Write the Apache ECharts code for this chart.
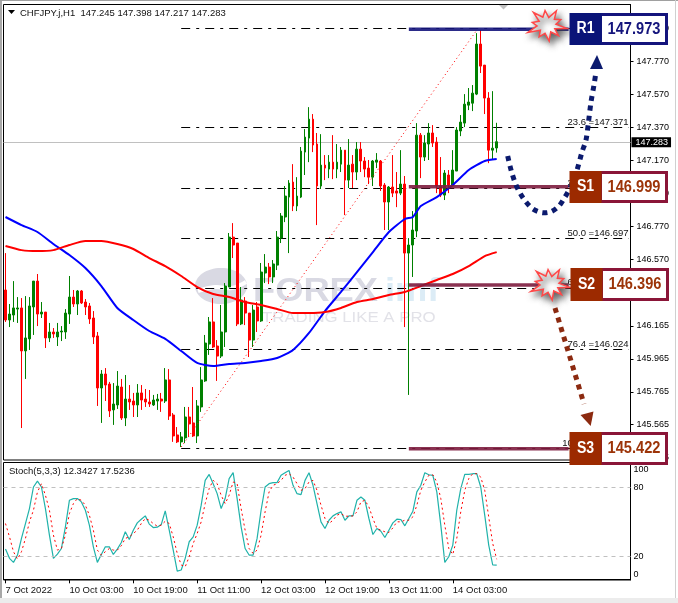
<!DOCTYPE html>
<html lang="en">
<head>
  <meta charset="UTF-8">
  <title>CHFJPY H1</title>
  <style>
    html, body { margin: 0; padding: 0; background: #fff; }
    #main { width: 678px; height: 603px; }
  </style>
</head>
<body>
  <div id="main"></div>
  <script src="https://cdn.jsdelivr.net/npm/echarts@6/dist/echarts.min.js"></script>
  <script>
    // x axis labels, one every 16 bars
    var tickLabels = ['7 Oct 2022', '10 Oct 03:00', '10 Oct 19:00', '11 Oct 11:00', '12 Oct 03:00', '12 Oct 19:00', '13 Oct 11:00', '14 Oct 03:00'];
    var priceTicks = [145.365, 145.565, 145.765, 145.965, 146.165, 146.370, 146.570, 146.770, 146.970, 147.170, 147.370, 147.570, 147.770, 147.970];
    var stochTicks = [0, 20, 80, 100];

    var opens = [
      146.383,146.201,146.231,146.267,146.274,146.013,146.086,146.280,146.437,146.237,
      146.249,146.092,146.128,146.098,146.128,146.128,146.237,146.340,146.298,146.377,
      146.310,146.286,146.213,146.104,145.788,145.873,145.812,145.655,145.685,145.794,
      145.606,145.721,145.709,145.685,145.758,145.721,145.703,145.685,145.709,145.721,
      145.709,145.837,145.624,145.503,145.461,145.485,145.612,145.576,145.497,145.673,
      145.831,146.055,146.189,146.043,145.982,146.128,146.401,146.704,146.668,146.177,
      146.316,146.243,146.079,146.280,146.195,146.486,146.522,146.462,146.534,146.698,
      146.826,146.947,147.038,146.893,146.947,147.220,147.305,147.420,147.269,147.014,
      147.141,147.117,147.159,147.117,147.147,147.232,147.050,147.147,147.099,147.238,
      147.166,147.123,147.068,147.159,147.166,147.020,146.917,147.008,146.984,146.971,
      147.026,146.607,146.656,146.741,147.323,147.190,147.269,147.336,147.281,147.014,
      146.959,147.081,147.020,147.105,147.348,147.396,147.505,147.517,147.572,147.876,
      147.748,147.548,147.232,147.245
    ];
    var closes = [
      146.201,146.237,146.274,146.274,146.013,146.092,146.286,146.437,146.237,146.249,
      146.092,146.128,146.116,146.128,146.134,146.243,146.340,146.298,146.377,146.304,
      146.280,146.207,146.098,145.788,145.873,145.806,145.649,145.691,145.800,145.606,
      145.721,145.703,145.685,145.758,145.715,145.703,145.691,145.715,145.721,145.709,
      145.837,145.618,145.497,145.461,145.491,145.612,145.570,145.497,145.679,145.837,
      146.061,146.189,146.037,145.982,146.128,146.407,146.704,146.656,146.177,146.322,
      146.243,146.079,146.261,146.195,146.492,146.522,146.462,146.541,146.704,146.832,
      146.953,147.032,146.893,146.953,147.226,147.311,147.420,147.263,147.014,147.141,
      147.123,147.159,147.117,147.159,147.232,147.050,147.141,147.099,147.238,147.166,
      147.117,147.068,147.166,147.172,147.014,146.917,147.008,146.971,146.971,147.026,
      146.607,146.656,146.747,147.323,147.190,147.275,147.336,147.275,147.014,146.959,
      147.093,147.020,147.111,147.354,147.402,147.511,147.524,147.578,147.876,147.742,
      147.548,147.232,147.244,147.283
    ];
    var lows = [
      146.189,146.158,146.189,146.183,145.545,145.843,146.019,146.110,146.164,146.213,
      146.031,146.067,146.092,146.043,146.073,146.086,146.177,146.280,146.231,146.298,
      146.231,146.177,146.055,145.679,145.576,145.709,145.612,145.564,145.661,145.594,
      145.557,145.655,145.612,145.612,145.655,145.673,145.673,145.679,145.655,145.643,
      145.697,145.594,145.461,145.454,145.430,145.454,145.491,145.491,145.454,145.643,
      145.825,145.989,146.031,145.831,145.970,146.037,146.401,146.577,146.164,146.170,
      146.170,145.976,146.037,146.128,146.189,146.425,146.419,146.425,146.504,146.668,
      146.795,146.607,146.862,146.862,146.941,147.081,147.159,147.220,146.777,146.996,
      147.050,147.062,147.056,147.062,147.099,146.838,147.002,147.002,147.050,147.099,
      147.068,147.026,147.014,147.123,146.984,146.747,146.747,146.947,146.886,146.959,
      146.158,145.746,146.462,146.704,147.062,147.166,147.172,147.251,146.971,146.947,
      146.929,146.971,147.014,147.105,147.317,147.372,147.475,147.469,147.566,147.700,
      147.451,147.153,147.172,147.217
    ];
    var highs = [
      146.607,146.298,146.437,146.340,146.334,146.346,146.340,146.437,146.480,146.310,
      146.249,146.183,146.152,146.183,146.164,146.267,146.468,146.383,146.383,146.383,
      146.328,146.304,146.255,146.128,145.897,145.909,145.825,145.818,145.891,145.843,
      145.867,145.806,145.758,145.812,145.806,145.782,145.776,145.746,145.752,145.758,
      145.909,145.903,145.636,145.551,145.521,145.673,145.673,145.794,145.715,145.915,
      146.110,146.219,146.334,146.079,146.292,146.425,146.729,146.789,146.668,146.401,
      146.340,146.243,146.292,146.310,146.547,146.601,146.547,146.565,146.741,146.850,
      147.014,147.050,147.147,147.068,147.251,147.360,147.493,147.451,147.336,147.329,
      147.202,147.202,147.323,147.269,147.251,147.232,147.299,147.202,147.281,147.281,
      147.190,147.172,147.172,147.214,147.172,147.032,147.014,147.202,147.099,147.232,
      147.075,146.698,146.862,147.396,147.336,147.323,147.396,147.384,147.311,147.190,
      147.111,147.111,147.232,147.372,147.445,147.572,147.609,147.627,147.942,147.960,
      147.748,147.584,147.590,147.398
    ];

    // moving averages read at every 4th bar
    var blueMa = [
      [0,146.826],[4,146.777],[8,146.735],[12,146.662],[16,146.595],[20,146.516],[24,146.407],[28,146.274],
      [32,146.201],[36,146.134],[40,146.086],[44,146.013],[48,145.940],[52,145.922],[56,145.934],[60,145.940],
      [64,145.952],[68,145.970],[72,146.019],[76,146.122],[80,146.255],[84,146.371],[88,146.492],[92,146.613],
      [96,146.735],[100,146.814],[102,146.826],[104,146.893],[108,146.947],[112,147.020],[116,147.111],[120,147.166],[123,147.178]
    ];
    var redMa = [
      [0,146.650],[4,146.625],[8,146.619],[12,146.625],[16,146.656],[20,146.680],[24,146.680],[28,146.662],
      [32,146.632],[36,146.577],[40,146.528],[44,146.468],[48,146.401],[52,146.359],[56,146.340],[60,146.310],
      [64,146.292],[68,146.268],[72,146.243],[76,146.243],[80,146.249],[84,146.274],[88,146.310],[92,146.328],
      [96,146.353],[100,146.371],[104,146.407],[108,146.444],[112,146.480],[116,146.528],[120,146.589],[123,146.613]
    ];

    var stochMain = [
      26.4,18.3,14.8,21.2,35.7,48.7,61.8,80.6,85.8,80.6,61.8,38.6,18.3,22.0,26.9,45.8,69.0,70.5,70.5,67.6,
      60.3,47.3,28.4,14.8,21.7,28.4,28.4,21.7,26.4,32.2,41.5,34.8,42.9,49.3,52.5,55.4,48.2,45.2,45.5,47.8,
      59.7,42.9,25.5,7.2,8.1,18.3,32.8,37.1,47.3,64.7,86.4,91.6,83.5,74.8,61.8,70.5,87.9,93.1,70.5,45.8,
      26.9,21.2,21.2,35.7,60.3,80.6,83.5,84.4,84.4,90.8,93.1,95.1,82.1,74.8,73.9,86.4,93.1,82.1,66.1,50.2,
      44.4,51.6,55.4,57.4,58.9,51.6,55.4,55.4,69.0,71.9,69.0,53.1,39.1,44.4,42.0,36.5,42.9,49.3,52.5,52.2,
      46.7,53.1,59.4,76.3,82.1,93.1,91.3,90.8,76.3,47.3,14.8,19.7,29.9,60.3,79.2,91.6,91.6,92.2,92.2,80.6,
      56.0,29.9,12.5,12.34
    ];
    var stochSignal = [
      48.7,37.1,24.1,17.7,24.1,35.7,50.2,60.3,76.3,83.5,73.4,60.3,38.6,25.5,26.9,38.6,57.4,66.1,70.5,69.0,
      64.7,56.0,42.9,25.5,21.2,24.1,26.9,25.5,25.5,29.3,35.7,37.1,40.0,42.9,48.7,53.1,51.6,48.7,46.4,47.3,
      50.7,48.7,37.1,22.6,12.5,11.0,19.7,31.3,40.0,50.2,66.1,79.2,86.4,83.5,73.4,66.1,73.4,85.0,83.5,61.8,
      42.9,26.9,22.6,25.5,38.6,58.9,76.3,82.1,83.5,86.4,90.8,92.2,89.3,83.5,77.7,79.2,85.0,86.4,77.7,64.7,
      53.1,48.7,51.6,56.0,57.4,55.1,55.1,55.4,58.9,67.6,69.0,63.2,53.1,44.4,42.9,41.5,40.9,44.9,50.2,50.2,
      51.6,51.6,54.5,64.7,77.7,85.0,90.8,91.3,85.0,70.5,47.3,26.9,21.7,35.7,58.9,77.7,87.9,92.2,92.2,89.3,
      77.7,54.5,31.3,17.52
    ];

    // fibonacci retracement
    var fibNames = ['0.0', '23.6', '38.2', '50.0', '61.8', '76.4', '100.0'];
    var fibPrices = [147.973, 147.371, 146.999, 146.697, 146.396, 146.024, 145.422];
    var fibStart = [44, 145.430];
    var fibEnd = [118, 147.960];

    // support / resistance lines drawn by hand on the chart
    var levelNames = ['R1', 'S1', 'S2', 'S3'];
    var levelText = ['147.973', '146.999', '146.396', '145.422'];
    var levelLines = [147.966, 147.009, 146.413, 145.420];

    var lastPrice = 147.283;
    var barSlots = 157;

    var fontName = '"Liberation Sans", Arial, sans-serif';
    var categories = [];
    for (var i = 0; i < barSlots; i++) {
      categories.push(i % 16 === 0 && tickLabels[i / 16] ? tickLabels[i / 16] : '');
    }
    var candles = opens.map(function (o, i) {
      return [o, closes[i], lows[i], highs[i]];
    });

    var fibLines = fibPrices.map(function (p, i) {
      return [
        { coord: [44, p] },
        { coord: [156, p], label: { formatter: fibNames[i] + ' =' + p.toFixed(3) } }
      ];
    });

    var levelColors = ['#14147c', '#7d1c3e', '#7d1c3e', '#7d1c3e'];
    var levelSeries = levelLines.map(function (p, i) {
      return {
        type: 'line', xAxisIndex: 0, yAxisIndex: 0, silent: true, symbol: 'none', z: 6,
        lineStyle: { color: levelColors[i], width: 3.5, opacity: 0.9 },
        data: [[101, p], [141, p]]
      };
    });

    // boxes, bursts, arrows and logo are annotations pasted on the screenshot
    function levelBox(idx, x, y, h) {
      var dark = idx === 0 ? '#0a1478' : '#9c2a00';
      var edge = idx === 0 ? '#14147c' : '#8a1538';
      var ink = idx === 0 ? '#14147c' : '#9c3408';
      return [
        { type: 'rect', z: 50, shape: { x: x + 31, y: y + 1.5, width: 66, height: h - 3 }, style: { fill: '#fff', stroke: edge, lineWidth: 3 } },
        { type: 'rect', z: 51, shape: { x: x, y: y, width: 32, height: h }, style: { fill: dark } },
        { type: 'text', z: 52, x: x + 16, y: y + h / 2, scaleX: 0.88, style: { text: levelNames[idx], fill: '#fff', font: 'bold 16px ' + fontName, align: 'center', verticalAlign: 'middle' } },
        { type: 'text', z: 52, x: x + 64.5, y: y + h / 2, scaleX: 0.86, style: { text: levelText[idx], fill: ink, font: 'bold 17px ' + fontName, align: 'center', verticalAlign: 'middle' } }
      ];
    }

    function burst(cx, cy) {
      var radii = [20, 9, 17, 9, 19, 10, 16, 9, 21, 10, 15, 9, 20, 10, 17, 9, 19, 10, 15, 9];
      var pts = radii.map(function (r, i) {
        var a = i / radii.length * Math.PI * 2 + 0.2;
        return [cx + Math.cos(a) * r, cy + Math.sin(a) * r * 0.85];
      });
      return {
        type: 'polygon', z: 40, shape: { points: pts },
        style: { fill: '#fff', stroke: '#ff4848', lineWidth: 1.5, shadowBlur: 6, shadowColor: 'rgba(60,60,60,0.8)', shadowOffsetX: 3, shadowOffsetY: 4 }
      };
    }

    var blueArrow = [[507.7, 156], [510, 166], [512.5, 175], [516, 185], [520, 193], [526, 202], [533, 209], [542, 212.7], [551, 211.7], [559, 206], [565, 197], [570, 188], [577, 170], [582, 152], [586, 140], [588.5, 122], [591, 102], [594, 85], [596, 72]];
    var brownArrow = [[555, 308], [565, 341], [575, 374], [584, 404]];

    var graphics = [
      { type: 'rect', z: 0, shape: { x: 0, y: 0, width: 2, height: 603 }, style: { fill: '#a8a8a8' } },
      { type: 'rect', z: 0, shape: { x: 0, y: 0, width: 678, height: 1 }, style: { fill: '#a0a0a0' } },
      { type: 'rect', z: 0, shape: { x: 675, y: 0, width: 1, height: 603 }, style: { fill: '#d0d0d0' } },
      { type: 'rect', z: 0, shape: { x: 0, y: 598, width: 678, height: 5 }, style: { fill: '#ececec' } },
      // watermark
      { type: 'ellipse', z: 0, shape: { cx: 221, cy: 286, rx: 26, ry: 18 }, style: { fill: '#d9d9e3' } },
      { type: 'polyline', z: 0, shape: { points: [[198, 291], [215, 287], [232, 288], [246, 282]], smooth: 0.4 }, style: { stroke: '#fff', lineWidth: 4, fill: null } },
      { type: 'text', z: 0, x: 253, y: 292, scaleX: 1.1, style: { text: 'FOREX', fill: '#d9d9e3', font: 'bold 33px ' + fontName, verticalAlign: 'middle' } },
      { type: 'text', z: 0, x: 385, y: 292, scaleX: 1.1, style: { text: 'imf', fill: '#dcecf6', font: 'bold 33px ' + fontName, verticalAlign: 'middle' } },
      { type: 'text', z: 0, x: 262, y: 318, scaleX: 1.2, style: { text: 'TRADING LIKE A PRO', fill: '#e2e2e8', font: '14px ' + fontName, verticalAlign: 'middle' } },
      // small chart markers
      { type: 'polygon', z: 30, shape: { points: [[8, 10], [15, 10], [11.5, 14]] }, style: { fill: '#000' } },
      { type: 'polygon', z: 30, shape: { points: [[499, 5], [508, 5], [503.5, 9.5]] }, style: { fill: '#c0c0c0' } },
      // arrows
      { type: 'polyline', z: 35, shape: { points: blueArrow, smooth: 0.3 }, style: { stroke: '#0b1a6e', lineWidth: 5, lineDash: [5, 5], fill: null } },
      { type: 'polygon', z: 35, shape: { points: [[590, 69], [603, 69], [597, 55]] }, style: { fill: '#0b1a6e' } },
      { type: 'polyline', z: 35, shape: { points: brownArrow }, style: { stroke: '#8c2a10', lineWidth: 5, lineDash: [5, 5], fill: null } },
      { type: 'polygon', z: 35, shape: { points: [[580.5, 415], [593.5, 411.5], [590.7, 426]] }, style: { fill: '#8c2a10' } },
      burst(547, 25), burst(550, 284)
    ].concat(levelBox(0, 569.5, 13, 32), levelBox(1, 569.5, 171, 32), levelBox(2, 570.5, 268, 33), levelBox(3, 569.5, 432, 33));

    var myChart = echarts.init(document.getElementById('main'), null, { renderer: 'canvas' });

    var option = {
      animation: false,
      backgroundColor: '#fff',
      textStyle: { fontFamily: fontName },
      title: [
        { text: 'CHFJPY.j,H1  147.245 147.398 147.217 147.283', left: 20, top: 8, padding: 0, textStyle: { fontSize: 9.5, fontWeight: 'normal', color: '#111', fontFamily: fontName } },
        { text: 'Stoch(5,3,3) 12.3427 17.5236', left: 9, top: 466, padding: 0, textStyle: { fontSize: 9.5, fontWeight: 'normal', color: '#111', fontFamily: fontName } }
      ],
      grid: [
        { left: 3.5, right: 47.5, top: 4.5, height: 455.5, show: true, borderColor: '#000', borderWidth: 1, backgroundColor: 'transparent' },
        { left: 3.5, right: 47.5, top: 462.5, height: 117.5, show: true, borderColor: '#000', borderWidth: 1, backgroundColor: 'transparent' }
      ],
      xAxis: [
        { type: 'category', gridIndex: 0, data: categories, boundaryGap: true, axisLine: { show: false }, axisTick: { show: false }, axisLabel: { show: false } },
        {
          type: 'category', gridIndex: 1, data: categories, boundaryGap: true,
          axisLine: { lineStyle: { color: '#000' } },
          axisTick: { show: true, length: 4, alignWithLabel: true, interval: function (i, v) { return v !== ''; }, lineStyle: { color: '#000' } },
          axisLabel: { show: true, interval: function (i, v) { return v !== ''; }, align: 'left', margin: 5, fontSize: 9.5, color: '#111', fontFamily: fontName, hideOverlap: false }
        }
      ],
      yAxis: [
        {
          type: 'value', gridIndex: 0, position: 'right', scale: true, min: 145.351, max: 148.116,
          splitLine: { show: false },
          axisLine: { show: true, lineStyle: { color: '#000' } },
          axisTick: { show: true, length: 3, customValues: priceTicks, lineStyle: { color: '#000' } },
          axisLabel: { margin: 6, fontSize: 9, color: '#000', fontFamily: fontName, customValues: priceTicks, formatter: function (v) { return v.toFixed(3); } }
        },
        {
          type: 'value', gridIndex: 1, position: 'right', min: -0.6, max: 102,
          splitLine: { show: false },
          axisLine: { show: true, lineStyle: { color: '#000' } },
          axisTick: { show: false },
          axisLabel: { margin: 3, fontSize: 9, color: '#000', fontFamily: fontName, customValues: stochTicks, verticalAlignMinLabel: 'bottom', verticalAlignMaxLabel: 'top' }
        }
      ],
      series: [
        {
          name: 'Fib levels', type: 'line', xAxisIndex: 0, yAxisIndex: 0, silent: true, symbol: 'none', z: 1, data: [],
          markLine: {
            silent: true, symbol: 'none', z: 1,
            lineStyle: { color: '#000', width: 1, type: [9, 6, 3, 6] },
            label: { show: true, position: 'insideEndTop', distance: 0, color: '#111', fontSize: 9.5, fontFamily: fontName },
            data: fibLines
          }
        },
        {
          name: 'Price', type: 'candlestick', xAxisIndex: 0, yAxisIndex: 0, barWidth: 2.4, z: 3, silent: true,
          itemStyle: { color: '#008000', color0: '#ff0000', borderColor: '#008000', borderColor0: '#ff0000', borderWidth: 1 },
          data: candles,
          markLine: {
            silent: true, symbol: 'none', z: 2,
            lineStyle: { color: '#c0c0c0', width: 1, type: 'solid' },
            label: { position: 'end', distance: 1, formatter: function () { return lastPrice.toFixed(3); }, color: '#fff', backgroundColor: '#000', padding: [1, 3, 0, 4], fontSize: 9, fontFamily: fontName },
            data: [{ yAxis: lastPrice }]
          }
        },
        {
          name: 'Fib line', type: 'line', xAxisIndex: 0, yAxisIndex: 0, silent: true, symbol: 'none', z: 4,
          lineStyle: { color: '#ff0000', width: 1, type: [1, 3] },
          data: [fibStart, fibEnd]
        },
        { name: 'MA blue', type: 'line', xAxisIndex: 0, yAxisIndex: 0, silent: true, symbol: 'none', smooth: 0.2, z: 5, lineStyle: { color: '#0000ff', width: 2 }, data: blueMa },
        { name: 'MA red', type: 'line', xAxisIndex: 0, yAxisIndex: 0, silent: true, symbol: 'none', smooth: 0.2, z: 5, lineStyle: { color: '#ff0000', width: 2 }, data: redMa },
        {
          name: 'Stoch', type: 'line', xAxisIndex: 1, yAxisIndex: 1, silent: true, symbol: 'none', z: 4,
          lineStyle: { color: '#20b2aa', width: 1.2 }, data: stochMain,
          markLine: {
            silent: true, symbol: 'none', label: { show: false },
            lineStyle: { color: '#c0c0c0', width: 1, type: [4, 4] },
            data: [{ yAxis: 80 }, { yAxis: 20 }]
          }
        },
        { name: 'Signal', type: 'line', xAxisIndex: 1, yAxisIndex: 1, silent: true, symbol: 'none', z: 5, lineStyle: { color: '#ff0000', width: 1, type: [2, 3] }, data: stochSignal }
      ].concat(levelSeries),
      graphic: { elements: graphics }
    };

    myChart.setOption(option);
  </script>
</body>
</html>
